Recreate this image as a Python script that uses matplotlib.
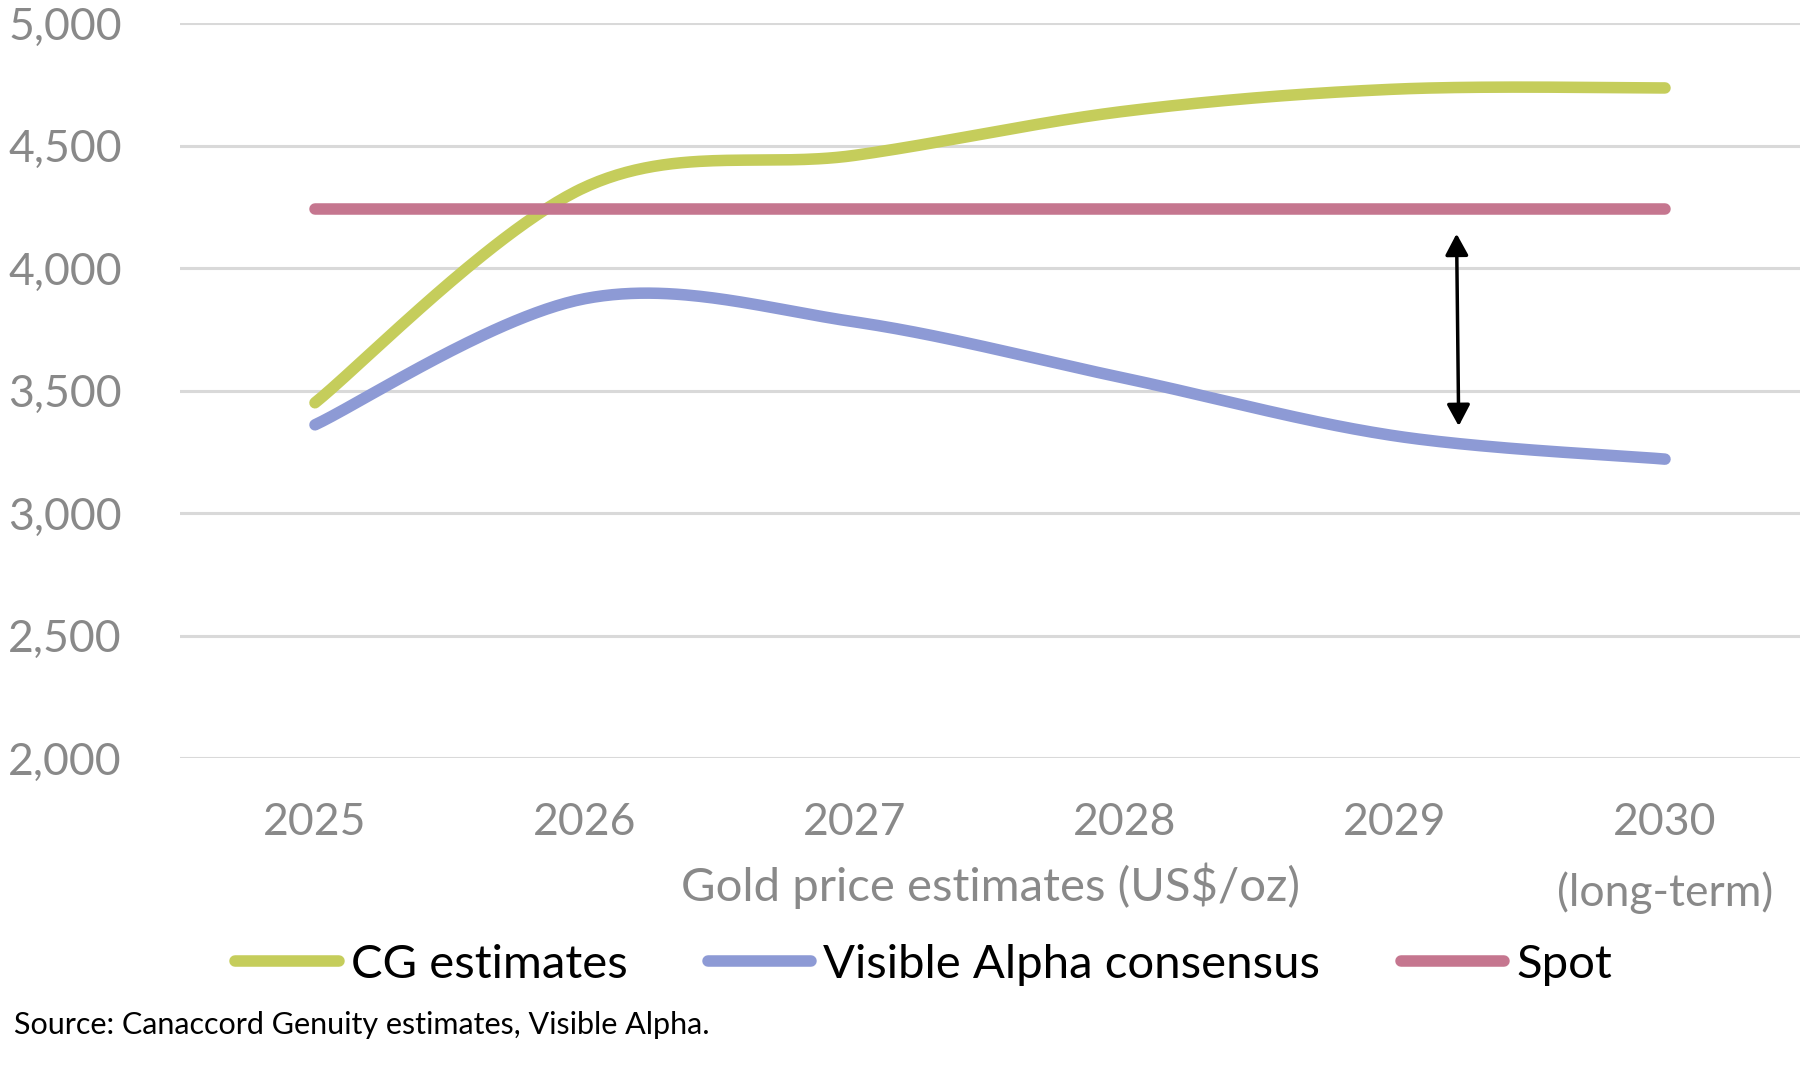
import numpy as np
import matplotlib
matplotlib.use("Agg")
import matplotlib.pyplot as plt
from matplotlib.lines import Line2D

# ---- data ----
categories = ["2025", "2026", "2027", "2028", "2029", "2030\n(long-term)"]
cg_estimates = [3450, 4330, 4460, 4640, 4730, 4735]
va_consensus = [3360, 3875, 3780, 3550, 3315, 3220]
spot = [4240, 4240, 4240, 4240, 4240, 4240]
arrow_x = 4.228
arrow_top = 4140
arrow_bottom = 3355

GREEN = "#c5cd5b"
BLUE = "#8d9ad5"
RED = "#c5768f"
GRID = "#d9d9d9"
TICK = "#898989"

plt.rcParams["font.family"] = ["Lato", "DejaVu Sans"]


def smooth(xs, ys, n=60):
    """Excel-style smoothed line: Catmull-Rom cubic Bezier through points."""
    xs = np.asarray(xs, float)
    ys = np.asarray(ys, float)
    P = np.column_stack([xs, ys])
    out = []
    for i in range(len(P) - 1):
        p0 = P[i - 1] if i > 0 else P[i]
        p1 = P[i]
        p2 = P[i + 1]
        p3 = P[i + 2] if i + 2 < len(P) else P[i + 1]
        c1 = p1 + (p2 - p0) / 6.0
        c2 = p2 - (p3 - p1) / 6.0
        t = np.linspace(0, 1, n)[:, None]
        seg = ((1 - t) ** 3) * p1 + 3 * ((1 - t) ** 2) * t * c1 + 3 * (1 - t) * t ** 2 * c2 + t ** 3 * p2
        out.append(seg if i == 0 else seg[1:])
    s = np.vstack(out)
    return s[:, 0], s[:, 1]


fig = plt.figure(figsize=(18, 10.8), dpi=100)
ax = fig.add_axes([0.1, 0.2981, 0.9, 0.6806])

x = np.arange(len(categories))
for vals, col in [(cg_estimates, GREEN), (va_consensus, BLUE), (spot, RED)]:
    sx, sy = smooth(x, vals)
    ax.plot(sx, sy, color=col, lw=8.3, solid_capstyle="round", zorder=3)

ax.annotate("", xy=(arrow_x, arrow_top), xytext=(arrow_x + 0.008, arrow_bottom),
            arrowprops=dict(arrowstyle="<|-|>,head_length=1.3,head_width=0.7",
                            color="black", lw=2.5, shrinkA=0, shrinkB=0), zorder=4)

ax.set_xlim(-0.5, 5.5)
ax.set_ylim(2000, 5000)
ax.set_yticks([2000, 2500, 3000, 3500, 4000, 4500, 5000])
ax.set_yticklabels([f"{v:,}" for v in [2000, 2500, 3000, 3500, 4000, 4500, 5000]])
ax.set_xticks(x)
ax.set_xticklabels(categories, linespacing=1.8)
ax.grid(axis="y", color=GRID, lw=2.2, zorder=0)
ax.set_axisbelow(True)
for s in ax.spines.values():
    s.set_visible(False)
ax.tick_params(axis="both", length=0, labelsize=32, labelcolor=TICK)
ax.tick_params(axis="y", pad=42)
ax.tick_params(axis="x", pad=32)
for lab in ax.get_xticklabels():
    lab.set_verticalalignment("top")

fig.text(0.55, 1 - 886 / 1080, "Gold price estimates (US$/oz)", ha="center", va="center",
         fontsize=34, color=TICK)

handles = [Line2D([], [], color=GREEN, lw=8.3, solid_capstyle="round"),
           Line2D([], [], color=BLUE, lw=8.3, solid_capstyle="round"),
           Line2D([], [], color=RED, lw=8.3, solid_capstyle="round")]
fig.legend(handles, ["CG estimates", "Visible Alpha consensus", "Spot"],
           loc="center", bbox_to_anchor=(0.513, 1 - 965 / 1080), ncol=3, frameon=False,
           fontsize=34, handlelength=2.2, handletextpad=0.25, columnspacing=1.7)

fig.text(14 / 1800, 1 - 1025 / 1080, "Source: Canaccord Genuity estimates, Visible Alpha.",
         ha="left", va="center", fontsize=22, color="black")

fig.savefig("out.png", dpi=100, facecolor="white")
